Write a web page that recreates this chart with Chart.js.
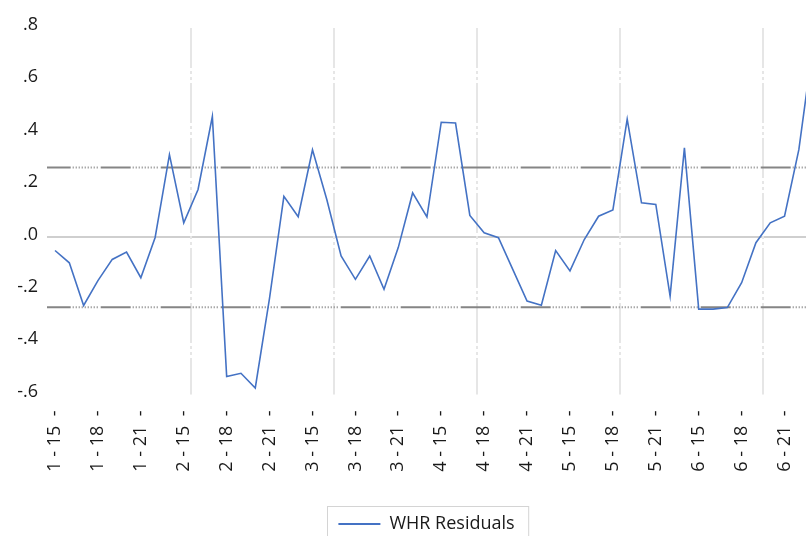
<!DOCTYPE html>
<html>
<head>
<meta charset="utf-8">
<title>WHR Residuals</title>
<script src="https://cdn.jsdelivr.net/npm/chart.js@4.4.1/dist/chart.umd.min.js"></script>
<style>
  html, body { margin: 0; padding: 0; background: #fff; }
  canvas { display: block; }
</style>
</head>
<body>
<canvas id="residChart" width="806" height="536"></canvas>
<script>
// panel: cross-section id x year (2015-2023)
const sections = [1, 2, 3, 4, 5, 6];
const years = [15, 16, 17, 18, 19, 20, 21, 22, 23];
const labelYears = [15, 18, 21];

const residuals = [
  -0.050, -0.097, -0.260, -0.165, -0.084, -0.056, -0.154, 0.000, 0.316,
  0.056, 0.183, 0.462, -0.531, -0.519, -0.575, -0.231, 0.157, 0.079,
  0.335, 0.145, -0.071, -0.160, -0.071, -0.198, -0.038, 0.170, 0.078,
  0.440, 0.437, 0.084, 0.018, -0.001, -0.122, -0.243, -0.259, -0.050,
  -0.128, -0.008, 0.081, 0.105, 0.452, 0.132, 0.126, -0.224, 0.342,
  -0.274, -0.274, -0.268, -0.173, -0.020, 0.056, 0.081, 0.335, 0.740
];

const yTicks = [-0.6, -0.4, -0.2, 0, 0.2, 0.4, 0.6, 0.8];
const seBand = 0.267; // dotted lines at +/- one S.E.
const vGrid = [9.5, 19.5, 29.5, 39.5, 49.5];

const obsLabels = [];
const labelIdx = [];
sections.forEach((s) => {
  years.forEach((y) => {
    if (labelYears.includes(y)) labelIdx.push(obsLabels.length);
    obsLabels.push(s + " - " + y + "  -");
  });
});

const blue = "#4472c4";
Chart.defaults.font.family = "'Open Sans', 'DejaVu Sans', sans-serif";
Chart.defaults.font.size = 18;
Chart.defaults.color = "#1a1a1a";

const bandDash = [30, 2, 1, 2, 1, 2, 1, 2, 1, 2, 1, 2, 1, 2, 1, 2, 1, 2, 1, 3];

// vertical dotted grid + legend frame
const extras = {
  id: "extras",
  beforeDatasetsDraw(chart) {
    const { ctx, chartArea } = chart;
    const x = chart.scales.x;
    ctx.save();
    ctx.strokeStyle = "#e6e6e6";
    ctx.lineWidth = 2;
    ctx.setLineDash([40, 3, 3, 3, 3, 3]);
    vGrid.forEach((v) => {
      const px = Math.round(x.getPixelForValue(v));
      ctx.beginPath();
      ctx.moveTo(px, chartArea.top);
      ctx.lineTo(px, chartArea.bottom);
      ctx.stroke();
    });
    ctx.restore();
  },
  afterDraw(chart) {
    const hb = chart.legend.legendHitBoxes[0];
    if (!hb) return;
    const ctx = chart.ctx;
    ctx.save();
    ctx.strokeStyle = "#d4d4d4";
    ctx.lineWidth = 1;
    ctx.strokeRect(Math.round(hb.left - 11) + 0.5, Math.round(hb.top - 9) + 0.5, hb.width + 25, 45);
    ctx.restore();
  },
};

const ctx = document.getElementById("residChart").getContext("2d");
new Chart(ctx, {
  type: "line",
  data: {
    datasets: [
      {
        label: "WHR Residuals",
        data: residuals.map((v, i) => ({ x: i, y: v })),
        borderColor: blue,
        backgroundColor: blue,
        borderWidth: 1.6,
        pointRadius: 0,
        tension: 0,
        order: 0,
      },
      {
        label: "+SE",
        data: [{ x: -1, y: seBand }, { x: residuals.length, y: seBand }],
        borderColor: "#858585",
        borderWidth: 2,
        borderDash: bandDash,
        pointRadius: 0,
        order: 1,
      },
      {
        label: "-SE",
        data: [{ x: -1, y: -seBand }, { x: residuals.length, y: -seBand }],
        borderColor: "#858585",
        borderWidth: 2,
        borderDash: bandDash,
        pointRadius: 0,
        order: 1,
      },
    ],
  },
  options: {
    responsive: false,
    animation: false,
    layout: { padding: { top: 28, left: 0, right: 0, bottom: -7 } },
    scales: {
      x: {
        type: "linear",
        min: -0.56,
        max: 52.5,
        afterBuildTicks: (s) => {
          s.ticks = labelIdx.map((v) => ({ value: v }));
        },
        afterFit: (s) => {
          s.height = 118.5;
          s.paddingLeft = 0;
          s.paddingRight = 0;
        },
        ticks: {
          autoSkip: false,
          minRotation: 90,
          maxRotation: 90,
          padding: 16,
          callback: (v) => obsLabels[v],
        },
        grid: { display: false, drawTicks: false },
        border: { display: false },
      },
      y: {
        min: -0.6,
        max: 0.8,
        afterBuildTicks: (s) => {
          s.ticks = yTicks.map((v) => ({ value: v }));
        },
        afterFit: (s) => {
          s.width = 47;
        },
        ticks: {
          padding: 9,
          labelOffset: -3,
          callback: (v) => (v < 0 ? "-" : "") + Math.abs(v).toFixed(1).replace(/^0/, ""),
        },
        grid: {
          drawTicks: false,
          lineWidth: 2,
          color: (c) => (c.tick && c.tick.value === 0 ? "#cfcfcf" : "rgba(0,0,0,0)"),
        },
        border: { display: false },
      },
    },
    plugins: {
      tooltip: { enabled: false },
      legend: {
        position: "bottom",
        fullSize: false,
        labels: {
          boxWidth: 42,
          boxHeight: 2,
          padding: 2,
          font: { size: 18 },
          filter: (item) => item.datasetIndex === 0,
          generateLabels: (chart) =>
            Chart.defaults.plugins.legend.labels.generateLabels(chart).map((l) => ({
              ...l,
              lineWidth: 0,
              fillStyle: blue,
            })),
        },
      },
    },
  },
  plugins: [extras],
});
</script>
</body>
</html>
